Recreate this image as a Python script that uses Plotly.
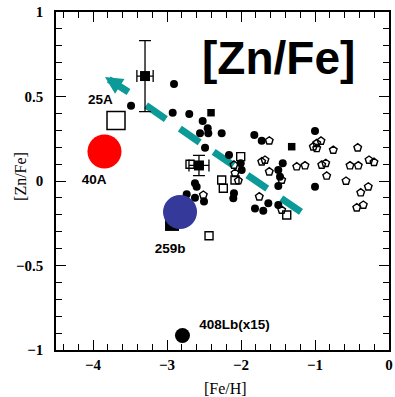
import plotly.graph_objects as go

# ---- field stars: filled symbols ----
filled_circ_x = [-2.905, -3.486, -2.923, -2.699, -2.518, -2.554, -2.450, -2.442, -2.261,
                 -2.486, -2.162, -1.820, -1.720, -2.004, -1.991, -1.436, -1.496, -1.473,
                 -1.496, -2.095, -2.104, -1.631, -1.811, -1.699, -1.496, -1.000, -1.000,
                 -2.622, -2.599, -2.734, -2.622, -2.500]
filled_circ_y = [0.574, 0.446, 0.404, 0.396, 0.355, 0.282, 0.312, 0.282, 0.282,
                 0.197, 0.154, 0.272, 0.238, 0.105, 0.065, 0.105, 0.065, 0.025,
                 -0.030, -0.073, -0.102, -0.132, -0.162, -0.176, -0.142, 0.296, -0.034,
                 -0.014, -0.034, -0.079, -0.099, -0.122]

filled_sq_x = [-2.405, -1.315]
filled_sq_y = [0.404, 0.203]

# ---- field stars: open symbols ----
open_sq_x = [-2.004, -2.689, -2.261, -2.081, -2.432, -1.382, -2.239]
open_sq_y = [0.144, 0.099, 0.006, 0.006, -0.324, -0.201, -0.043]

open_pent_x = [-1.618, -2.095, -1.720, -1.676, -1.247, -1.135, -1.618, -1.450, -2.081,
               -2.036, -1.753, -1.450, -2.509, -1.023, -0.977, -0.919, -0.977, -0.753,
               -0.909, -0.855, -0.842, -0.581, -0.423, -0.527, -0.415, -0.270, -0.203,
               -0.280, -0.382, -0.436, -0.347]
open_pent_y = [0.238, 0.095, 0.114, 0.124, 0.085, 0.091, 0.055, 0.006, 0.046,
               0.002, -0.093, -0.172, -0.083, 0.203, 0.223, 0.237, 0.193, 0.183,
               0.095, 0.105, 0.030, 0.000, 0.197, 0.091, 0.091, 0.124, 0.111,
               -0.034, -0.069, -0.158, -0.142]

# ---- stars with error bars ----
err_x = [-3.297, -2.568]
err_y = [0.621, 0.092]
err_dx = [0.11, 0.135]
err_dy = [0.21, 0.06]

# ---- labelled objects ----
lab_names = ["25A", "40A", "259b", "408Lb(x15)"]
lab_x = [-3.90, -3.985, -2.959, -2.088]
lab_y = [0.473, 0.0, -0.408, -0.858]

star25_x, star25_y = [-3.689], [0.358]
star40_x, star40_y = [-3.845], [0.175]
star259sq_x, star259sq_y = [-2.932], [-0.254]
star259_x, star259_y = [-2.824], [-0.183]
star408_x, star408_y = [-2.791], [-0.914]

# trend arrow (tail -> head)
arrow_tail = (-1.189, -0.183)
arrow_shaft_end = (-3.419, 0.488)
arrow_stub = (-3.50, 0.521)
arrow_tip = (-3.838, 0.615)

TEAL = "#0b9a98"

fig = go.Figure()

fig.add_trace(go.Scatter(
    x=[arrow_tail[0], arrow_shaft_end[0]], y=[arrow_tail[1], arrow_shaft_end[1]],
    mode="lines", line=dict(color=TEAL, width=7, dash="24px,17px"),
    hoverinfo="skip"))

fig.add_trace(go.Scatter(
    x=open_pent_x, y=open_pent_y, mode="markers",
    marker=dict(symbol="pentagon-open", size=8, color="black", line=dict(width=1.4))))
fig.add_trace(go.Scatter(
    x=open_sq_x, y=open_sq_y, mode="markers",
    marker=dict(symbol="square-open", size=8, color="black", line=dict(width=1.4))))
fig.add_trace(go.Scatter(
    x=filled_circ_x, y=filled_circ_y, mode="markers",
    marker=dict(symbol="circle", size=8, color="black")))
fig.add_trace(go.Scatter(
    x=filled_sq_x, y=filled_sq_y, mode="markers",
    marker=dict(symbol="square", size=7.5, color="black")))
fig.add_trace(go.Scatter(
    x=err_x, y=err_y, mode="markers",
    marker=dict(symbol="square", size=10, color="black"),
    error_x=dict(type="data", array=err_dx, color="black", thickness=1.3, width=6),
    error_y=dict(type="data", array=err_dy, color="black", thickness=1.3, width=6)))

fig.add_trace(go.Scatter(
    x=star25_x, y=star25_y, mode="markers",
    marker=dict(symbol="square-open", size=18, color="black", line=dict(width=1.5))))
fig.add_trace(go.Scatter(
    x=star40_x, y=star40_y, mode="markers",
    marker=dict(symbol="circle", size=34, color="#ff0000")))
fig.add_trace(go.Scatter(
    x=star259sq_x, y=star259sq_y, mode="markers",
    marker=dict(symbol="square", size=14, color="black")))
fig.add_trace(go.Scatter(
    x=star259_x, y=star259_y, mode="markers",
    marker=dict(symbol="circle", size=34, color="#35399a")))
fig.add_trace(go.Scatter(
    x=star408_x, y=star408_y, mode="markers",
    marker=dict(symbol="circle", size=15, color="black")))

fig.add_trace(go.Scatter(
    x=lab_x, y=lab_y, mode="text", text=lab_names,
    textfont=dict(family="Liberation Sans", size=13.5, color="black", weight="bold"),
    textposition="middle center"))

# arrow head with a short stub of shaft
fig.add_annotation(
    x=arrow_tip[0], y=arrow_tip[1], ax=arrow_stub[0], ay=arrow_stub[1],
    xref="x", yref="y", axref="x", ayref="y", text="",
    showarrow=True, arrowhead=2, arrowsize=0.5, arrowwidth=7, arrowcolor=TEAL,
    standoff=0)

fig.add_annotation(
    x=-1.5, y=0.73, xref="x", yref="y", text="[Zn/Fe]", showarrow=False,
    font=dict(family="Liberation Sans", size=46, color="black", weight="bold"),
    xanchor="center", yanchor="middle")

title_font = dict(family="Liberation Serif", size=16, color="black")

# axis titles, placed close to the tick labels
fig.add_annotation(
    x=0, y=0.512, xref="paper", yref="paper", xshift=-35, text="[Zn/Fe]",
    textangle=-90, showarrow=False, xanchor="center", yanchor="middle", font=title_font)
fig.add_annotation(
    x=0.51, y=0, xref="paper", yref="paper", yshift=-38, text="[Fe/H]",
    showarrow=False, xanchor="center", yanchor="middle", font=title_font)

axis_font = dict(family="Liberation Serif", size=15, color="black", weight="bold")

fig.update_xaxes(
    range=[-4.5, 0], tickvals=[-4, -3, -2, -1, 0], ticktext=["\u22124", "\u22123", "\u22122", "\u22121", "0"],
    ticks="inside", ticklen=10, tickwidth=1.3, tickcolor="black",
    minor=dict(ticks="inside", ticklen=6, dtick=0.2, tick0=0, tickwidth=1.2, tickcolor="black"),
    showline=True, linecolor="black", linewidth=1.5, mirror="ticks",
    showgrid=False, zeroline=False, tickfont=axis_font, automargin=False)
fig.update_yaxes(
    range=[-1, 1], tickvals=[-1, -0.5, 0, 0.5, 1], ticktext=["\u22121", "\u22120.5", "0", "0.5", "1"],
    ticks="inside", ticklen=10, tickwidth=1.3, tickcolor="black",
    minor=dict(ticks="inside", ticklen=6, dtick=0.1, tick0=0, tickwidth=1.2, tickcolor="black"),
    showline=True, linecolor="black", linewidth=1.5, mirror="ticks",
    showgrid=False, zeroline=False, tickfont=axis_font, ticklabelstandoff=8, automargin=False)

fig.update_layout(
    width=395, height=397, margin=dict(l=56, r=6, t=12, b=47),
    paper_bgcolor="white", plot_bgcolor="white", showlegend=False)

fig.write_html("out.html")
